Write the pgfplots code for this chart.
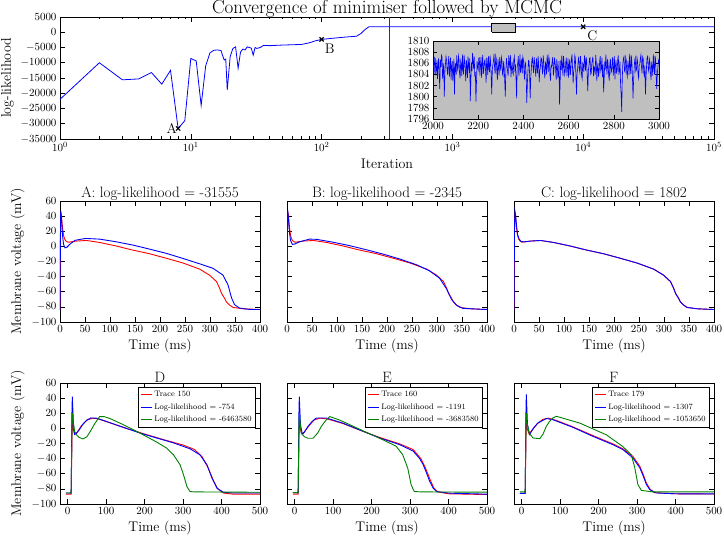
\documentclass[border=0pt]{standalone}
\usepackage{pgfplots}
\usepackage{pgfplotstable}
\pgfplotsset{compat=1.18}
\definecolor{mblue}{rgb}{0,0,1}
\definecolor{mred}{rgb}{1,0,0}
\definecolor{mgreen}{rgb}{0,0.5,0}
\pgfplotsset{
  base/.style={scale only axis, anchor=north west, axis line style={line width=0.7pt},
    tick style={black, line width=0.6pt}, major tick length=5pt, minor tick length=2.5pt,
    tick align=inside, ticklabel style={font=\fontsize{11}{12}\selectfont},
    label style={font=\fontsize{14}{16}\selectfont},
    title style={font=\fontsize{15}{17}\selectfont, yshift=-9pt},
    scaled ticks=false, /pgf/number format/set thousands separator={}},
  mid/.style={base, width=200pt, height=121pt, xmin=0, xmax=400, ymin=-100, ymax=60,
    xtick={0,50,...,400}, ytick={-100,-80,...,60}, xlabel={Time (ms)}},
  bot/.style={base, width=200pt, height=121pt, xmin=-20, xmax=500, ymin=-100, ymax=60,
    xtick={0,100,...,500}, ytick={-100,-80,...,60}, xlabel={Time (ms)},
    legend style={at={(0.98,0.967)}, anchor=north east, draw=black, line width=0.6pt,
      font=\fontsize{8}{9}\selectfont, inner sep=2pt, row sep=1.5pt, cells={anchor=west}},
    legend image code/.code={\draw[#1] (0pt,0pt) -- (11pt,0pt);}},
  ap/.style={line width=0.9pt},
}
\pgfplotstableread{
x y
2000 1806.2
2002.5 1805.4
2005 1804.1
2007.5 1807.0
2010 1806.8
2012.5 1803.8
2015 1805.0
2017.5 1806.5
2020 1803.2
2022.5 1805.7
2025 1806.9
2027.5 1804.0
2030 1801.4
2032.5 1806.6
2035 1805.3
2037.5 1807.4
2040 1807.1
2042.5 1803.2
2045 1804.6
2047.5 1806.0
2050 1800.0
2052.5 1804.3
2055 1805.8
2057.5 1807.2
2060 1806.5
2062.5 1804.8
2065 1803.9
2067.5 1806.1
2070 1807.3
2072.5 1803.6
2075 1805.1
2077.5 1807.0
2080 1803.0
2082.5 1805.5
2085 1806.4
2087.5 1802.9
2090 1804.2
2092.5 1806.8
2095 1800.4
2097.5 1805.2
2100 1806.0
2102.5 1803.9
2105 1807.4
2107.5 1805.6
2110 1804.5
2112.5 1807.3
2115 1806.7
2117.5 1804.2
2120 1803.3
2122.5 1806.4
2125 1805.9
2127.5 1803.7
2130 1807.6
2132.5 1805.1
2135 1804.0
2137.5 1807.5
2140 1806.3
2142.5 1804.9
2145 1802.8
2147.5 1806.6
2150 1805.5
2152.5 1803.4
2155 1807.2
2157.5 1805.9
2160 1804.3
2162.5 1806.9
2165 1799.2
2167.5 1803.0
2170 1806.1
2172.5 1804.6
2175 1807.8
2177.5 1806.3
2180 1805.0
2182.5 1807.2
2185 1803.6
2187.5 1804.4
2190 1799.1
2192.5 1802.7
2195 1806.4
2197.5 1805.3
2200 1804.8
2202.5 1806.9
2205 1807.0
2207.5 1803.8
2210 1805.6
2212.5 1807.1
2215 1803.4
2217.5 1805.9
2220 1807.5
2222.5 1804.1
2225 1804.9
2227.5 1806.3
2230 1806.6
2232.5 1804.7
2235 1802.5
2237.5 1807.0
2240 1805.8
2242.5 1803.9
2245 1807.3
2247.5 1805.5
2250 1804.4
2252.5 1807.4
2255 1806.2
2257.5 1803.6
2260 1800.4
2262.5 1804.9
2265 1805.7
2267.5 1806.4
2270 1807.7
2272.5 1805.2
2275 1804.1
2277.5 1807.3
2280 1806.8
2282.5 1804.5
2285 1803.0
2287.5 1806.7
2290 1805.4
2292.5 1803.8
2295 1807.1
2297.5 1805.6
2300 1804.7
2302.5 1807.1
2305 1806.5
2307.5 1804.1
2310 1803.8
2312.5 1806.4
2315 1805.2
2317.5 1802.6
2320 1800.0
2322.5 1804.8
2325 1806.9
2327.5 1805.9
2330 1804.6
2332.5 1803.7
2335 1807.4
2337.5 1806.2
2340 1805.1
2342.5 1807.5
2345 1803.5
2347.5 1805.0
2350 1806.3
2352.5 1804.4
2355 1804.0
2357.5 1806.6
2360 1807.2
2362.5 1804.9
2365 1805.5
2367.5 1803.1
2370 1799.7
2372.5 1805.3
2375 1806.0
2377.5 1807.3
2380 1803.7
2382.5 1805.5
2385 1807.6
2387.5 1804.3
2390 1805.3
2392.5 1806.8
2395 1804.2
2397.5 1807.2
2400 1806.7
2402.5 1804.6
2405 1803.1
2407.5 1806.2
2410 1805.9
2412.5 1803.2
2415 1798.9
2417.5 1802.4
2420 1804.5
2422.5 1806.5
2425 1806.4
2427.5 1804.0
2430 1799.7
2432.5 1803.3
2435 1805.0
2437.5 1806.6
2440 1807.0
2442.5 1805.4
2445 1804.3
2447.5 1807.1
2450 1806.1
2452.5 1804.8
2455 1803.6
2457.5 1806.9
2460 1805.6
2462.5 1804.2
2465 1807.3
2467.5 1805.9
2470 1802.6
2472.5 1804.7
2475 1805.2
2477.5 1807.0
2480 1806.8
2482.5 1805.3
2485 1804.0
2487.5 1807.4
2490 1806.3
2492.5 1804.5
2495 1803.3
2497.5 1806.1
2500 1805.8
2502.5 1804.0
2505 1807.5
2507.5 1806.3
2510 1804.4
2512.5 1807.2
2515 1806.6
2517.5 1803.9
2520 1802.9
2522.5 1805.6
2525 1805.4
2527.5 1806.5
2530 1807.1
2532.5 1803.8
2535 1804.8
2537.5 1807.0
2540 1806.2
2542.5 1805.0
2545 1803.0
2547.5 1806.7
2550 1805.7
2552.5 1803.3
2555 1804.1
2557.5 1806.4
2560 1798.6
2562.5 1802.5
2565 1806.5
2567.5 1804.8
2570 1807.4
2572.5 1805.6
2575 1803.8
2577.5 1807.3
2580 1805.9
2582.5 1804.0
2585 1804.6
2587.5 1806.2
2590 1807.0
2592.5 1803.7
2595 1805.1
2597.5 1806.9
2600 1803.4
2602.5 1805.7
2605 1806.7
2607.5 1803.9
2610 1804.9
2612.5 1806.8
2615 1807.6
2617.5 1805.0
2620 1802.4
2622.5 1804.6
2625 1805.3
2627.5 1807.4
2630 1806.9
2632.5 1803.5
2635 1800.4
2637.5 1804.2
2640 1805.0
2642.5 1806.5
2645 1807.2
2647.5 1804.9
2650 1804.3
2652.5 1807.3
2655 1806.1
2657.5 1803.8
2660 1803.2
2662.5 1806.0
2665 1805.8
2667.5 1804.4
2670 1807.4
2672.5 1806.2
2675 1804.7
2677.5 1807.1
2680 1806.4
2682.5 1803.4
2685 1801.0
2687.5 1804.7
2690 1805.5
2692.5 1806.9
2695 1807.0
2697.5 1804.0
2700 1804.2
2702.5 1805.8
2705 1806.6
2707.5 1807.2
2710 1803.7
2712.5 1805.4
2715 1805.2
2717.5 1803.9
2720 1807.5
2722.5 1806.1
2725 1802.8
2727.5 1805.3
2730 1806.0
2732.5 1803.6
2735 1804.5
2737.5 1806.4
2740 1807.3
2742.5 1804.6
2745 1805.1
2747.5 1807.0
2750 1803.5
2752.5 1805.8
2755 1800.8
2757.5 1803.4
2760 1806.3
2762.5 1804.9
2765 1807.6
2767.5 1805.4
2770 1804.0
2772.5 1806.8
2775 1805.7
2777.5 1803.7
2780 1802.9
2782.5 1805.9
2785 1806.8
2787.5 1804.3
2790 1804.6
2792.5 1806.0
2795 1807.1
2797.5 1803.8
2800 1805.3
2802.5 1807.3
2805 1803.1
2807.5 1805.6
2810 1806.5
2812.5 1804.1
2815 1804.8
2817.5 1806.7
2820 1807.4
2822.5 1803.9
2825 1805.0
2827.5 1806.3
2830 1802.2
2832.5 1800.5
2835 1797.3
2837.5 1803.2
2840 1805.9
2842.5 1806.8
2845 1807.2
2847.5 1804.6
2850 1804.4
2852.5 1807.1
2855 1806.6
2857.5 1804.2
2860 1803.6
2862.5 1806.4
2865 1805.5
2867.5 1803.9
2870 1807.7
2872.5 1805.6
2875 1804.1
2877.5 1807.4
2880 1806.2
2882.5 1803.5
2885 1799.7
2887.5 1802.8
2890 1805.0
2892.5 1806.6
2895 1807.0
2897.5 1804.5
2900 1804.7
2902.5 1807.0
2905 1806.4
2907.5 1803.9
2910 1803.3
2912.5 1805.7
2915 1805.8
2917.5 1806.9
2920 1807.5
2922.5 1805.4
2925 1804.2
2927.5 1807.2
2930 1806.9
2932.5 1804.3
2935 1803.8
2937.5 1805.6
2940 1800.4
2942.5 1803.3
2945 1805.6
2947.5 1807.1
2950 1807.3
2952.5 1805.0
2955 1804.5
2957.5 1806.7
2960 1806.1
2962.5 1804.2
2965 1803.0
2967.5 1806.3
2970 1805.4
2972.5 1803.8
2975 1807.6
2977.5 1805.5
2980 1804.0
2982.5 1807.3
2985 1806.7
2987.5 1803.6
2990 1801.4
2992.5 1804.1
2995 1805.2
2997.5 1806.5
3000 1806.0
}\mcmc
\pgfplotstableread{
x y
1 -22000
2 -10000
3 -15600
4 -15300
5 -13200
6 -17000
7 -12500
8 -31555
9 -29000
10 -8600
11 -9400
12 -24000
13 -11000
14 -6800
15 -5900
16 -5800
17 -6000
18 -9100
18.5 -8800
19 -18900
20 -8000
21 -5300
22 -4800
23 -11800
24 -6500
25 -5500
26 -5800
27 -4800
28 -5000
29 -5200
30 -7500
31 -5000
32 -5300
34 -5000
36 -4300
40 -4400
50 -4200
60 -4100
70 -4000
80 -3500
90 -2800
100 -2345
120 -2000
150 -1600
185 -1300
200 -400
215 900
230 1802
330 1802
100000 1802
}\conv
\pgfplotstableread{
x y
0 -84
0.5 -40
1 20
2 45
3 40
5 25
7 15
9 10
12 7
16 5.5
22 6
33 7
53 7.8
79 5.2
113 0.4
146 -5
179 -9.7
213 -15.8
246 -22
279 -30
299 -38
313 -46.5
319 -55
323 -62
329 -68.5
333 -73.7
339 -77.5
346 -80.7
366 -82.5
400 -83.5
}\redmid
\begin{document}
\begin{tikzpicture}
\path[use as bounding box] (0pt,0pt) rectangle (724pt,-537pt);
% ---------------- top panel
\begin{axis}[base, at={(60pt,-17pt)}, width=654pt, height=122pt, xmode=log,
  xmin=1, xmax=1e5, ymin=-35000, ymax=5000, ytick={-35000,-30000,...,5000},
  xtick={1,10,100,1000,10000,100000},
  xlabel={Iteration}, ylabel={log-likelihood},
  title={Convergence of minimiser followed by MCMC},
  title style={font=\fontsize{19}{21}\selectfont, yshift=-1.3pt}]
\addplot[mblue, line width=0.8pt] table[x=x,y=y] {\conv};
\addplot[fill=gray!50, draw=black, line width=0.6pt] coordinates {(2000,100) (3000,100) (3000,3000) (2000,3000) (2000,100)};
\addplot[red!75!black, mark=none, line width=1pt] coordinates {(330,-35000) (330,5000)};
\addplot[only marks, mark=x, mark size=3pt, black, line width=1.2pt] coordinates {(8,-31555) (100,-2345) (10000,1802)};
\node[anchor=east, font=\fontsize{14}{16}\selectfont, inner sep=1pt] at (axis cs:8,-31555) {A};
\node[anchor=north west, font=\fontsize{14}{16}\selectfont, inner sep=1pt, xshift=2pt, yshift=-3pt] at (axis cs:100,-2345) {B};
\node[anchor=north west, font=\fontsize{14}{16}\selectfont, inner sep=1pt, xshift=3pt, yshift=-3pt] at (axis cs:10000,1802) {C};
\end{axis}
% inset
\begin{axis}[base, at={(433pt,-41pt)}, width=226pt, height=78pt,
  xmin=2000, xmax=3000, ymin=1796, ymax=1810,
  xtick={2000,2200,...,3000}, ytick={1796,1798,...,1810},
  axis background/.style={fill=gray!50}, major tick length=4pt]
\addplot[mblue, line width=0.6pt] table[x=x,y=y] {\mcmc};
\end{axis}
% ---------------- middle panels
\begin{axis}[mid, at={(60pt,-201pt)}, ylabel={Membrane voltage (mV)},
  title={A: log-likelihood = -31555}]
\addplot[mred, ap] table[x=x,y=y] {\redmid};
\addplot[mblue, ap] coordinates {(0,-84) (0.5,-30) (1,30) (1.5,47) (3,35) (5,15) (7,3) (10,-2) (14,-1) (20,3) (30,8) (51,10.5) (79,9.6) (113,6) (146,1.7) (179,-3.6) (213,-9.3) (246,-16) (279,-23) (306,-29) (326,-38) (336,-51) (343,-68) (349,-77) (359,-81.6) (379,-83.4) (400,-83.5)};
\end{axis}
\begin{axis}[mid, at={(287pt,-201pt)}, yticklabels={},
  title={B: log-likelihood = -2345}]
\addplot[mred, ap] table[x=x,y=y] {\redmid};
\addplot[mblue, ap] coordinates {(0,-84) (0.5,-30) (1,30) (1.5,48) (3,35) (5,18) (7,8) (10.7,2.6) (15,3) (25,6) (45,9.6) (59,9.3) (92,5.5) (125,1) (159,-4.5) (192,-10.2) (225,-16.6) (259,-24.3) (285,-32.3) (305,-42) (319,-56) (329,-70) (339,-78) (352,-82) (392,-83.3) (400,-83.3)};
\end{axis}
\begin{axis}[mid, at={(514pt,-201pt)}, yticklabels={},
  title={C: log-likelihood = 1802}]
\addplot[mred, ap] table[x=x,y=y] {\redmid};
\addplot[mblue, ap] coordinates {(0,-84) (0.5,-30) (1,30) (2,46) (3,42) (5,28) (7,16) (10,10) (14,6.5) (20,6) (33,7) (53,7.8) (79,5.2) (113,0.4) (146,-5) (179,-9.7) (213,-15.8) (246,-22) (279,-30) (299,-38) (313,-46.5) (319,-55) (323,-62) (329,-68.5) (333,-73.7) (339,-77.5) (346,-80.7) (366,-82.5) (400,-83.5)};
\end{axis}
% ---------------- bottom panels
\begin{axis}[bot, at={(60pt,-383pt)}, ylabel={Membrane voltage (mV)}, title={D}]
\addplot[mred, ap] coordinates {(-5,-87) (9,-87) (11,-20) (12,15) (14,0) (18,-8) (25,-5) (35,3) (50,11) (65,13.5) (80,12.5) (100,9) (150,0.5) (200,-7.5) (250,-15) (300,-22) (330,-28) (350,-38) (365,-52) (378,-68) (390,-80) (405,-85.5) (430,-87) (500,-87)};
\addlegendentry{Trace 150}
\addplot[mblue, ap] coordinates {(-5,-85.5) (9,-85.5) (10,-40) (11,20) (12,42) (13,30) (15,5) (18,-8) (22,-7) (30,-2) (40,6) (50,11) (60,13.8) (75,13.5) (100,9.3) (144,1.4) (187,-6) (231,-12.7) (274,-19) (318,-27) (344,-35) (362,-48) (375,-65.6) (388,-79) (405,-84.5) (430,-85.5) (500,-85.5)};
\addlegendentry{Log-likelihood = -754}
\addplot[mgreen, ap] coordinates {(-5,-85.5) (9,-85.5) (11,0) (12,20) (14,10) (18,-4) (22,-8) (30,-12) (40,-14) (50,-11) (60,-3) (70,6) (83,15.5) (95,15.5) (110,13) (144,5) (187,-6) (231,-18) (257,-26) (275,-35) (292,-48) (301,-61) (310,-77) (318,-83.5) (330,-84) (500,-84.5)};
\addlegendentry{Log-likelihood = -6463580}
\end{axis}
\begin{axis}[bot, at={(287pt,-383pt)}, yticklabels={}, title={E}]
\addplot[mred, ap] coordinates {(-5,-87) (9,-87) (11,-20) (12,15) (14,0) (18,-7) (25,-5) (35,2) (50,11) (65,13.5) (85,12.5) (125,6.5) (178,-4) (221,-12) (273,-20.5) (308,-28) (328,-40) (338,-50) (346,-60) (354,-70) (362,-79) (372,-84) (400,-86.5) (500,-87.5)};
\addlegendentry{Trace 160}
\addplot[mblue, ap] coordinates {(-5,-85) (9,-85) (10,-40) (11,20) (12,42) (13,30) (15,5) (20,-8) (25,-5) (35,3) (45,9) (56,13.7) (82,13.7) (125,7) (178,-3.9) (221,-12.7) (273,-21.5) (308,-30) (325,-40) (334,-48) (342,-58) (351,-70) (360,-79) (369,-83.5) (403,-85.7) (500,-87)};
\addlegendentry{Log-likelihood = -1191}
\addplot[mgreen, ap] coordinates {(-5,-85) (9,-85) (11,0) (12,20) (14,8) (17,-6) (25,-11) (34,-13) (48,-13) (60,-6) (69,2.4) (80,10) (91,15.6) (117,11) (178,-3.3) (229,-15) (264,-23.7) (281,-35) (294,-52.8) (303,-75) (311,-83.5) (330,-84) (500,-84.4)};
\addlegendentry{Log-likelihood = -3683580}
\end{axis}
\begin{axis}[bot, at={(514pt,-383pt)}, yticklabels={}, title={F}]
\addplot[mred, ap] coordinates {(-5,-86) (9,-86) (11,-20) (12,15) (14,0) (19,-7) (28,-2) (40,6) (55,12) (70,13.5) (90,10.5) (133,2) (185,-9.5) (237,-20.5) (263,-27) (289,-37) (307,-50) (316,-61) (324,-72) (333,-80) (345,-85) (400,-86.5) (500,-86.8)};
\addlegendentry{Trace 179}
\addplot[mblue, ap] coordinates {(-5,-86) (9,-86) (10,-40) (11,20) (12,45) (13,32) (15,5) (20.7,-8) (30,0) (42,7) (64,13) (81,11.5) (133,1.4) (185,-10.5) (237,-21.5) (263,-28) (289,-39) (307,-52) (316,-63) (324,-74) (333,-81) (350,-85.4) (400,-86.5) (500,-86.7)};
\addlegendentry{Log-likelihood = -1307}
\addplot[mgreen, ap] coordinates {(-5,-84) (9,-84) (11,0) (12,20) (14,8) (19,-6) (29.4,-12.7) (47,-13.6) (55,-8) (64,2.7) (72,9) (81,13.7) (90,16) (151,7) (220,-8.5) (263,-24) (285,-35) (294,-52) (302,-74) (311,-82) (341,-84) (500,-84)};
\addlegendentry{Log-likelihood = -1053650}
\end{axis}
\end{tikzpicture}
\end{document}
